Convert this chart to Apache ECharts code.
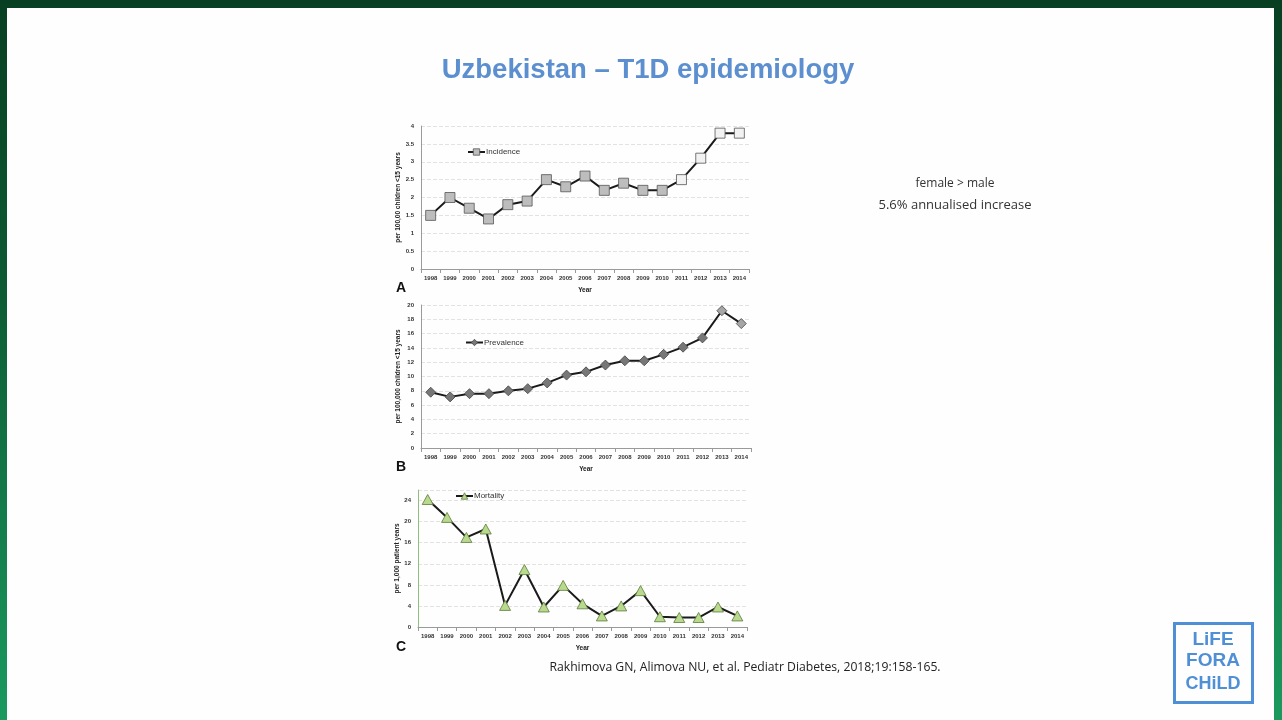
<!DOCTYPE html>
<html>
<head>
<meta charset="utf-8">
<script src="https://cdn.jsdelivr.net/npm/echarts@6/dist/echarts.min.js"></script>
<style>
html,body{margin:0;padding:0;width:1282px;height:720px;overflow:hidden;}
body{background:linear-gradient(to bottom,#083f22 0%,#0d5a33 40%,#1a9a5f 100%);position:relative;}
#page{position:absolute;left:7px;top:8px;width:1267px;height:712px;background:#fefefe;}
#chart{position:absolute;left:0;top:0;width:1282px;height:720px;}
</style>
</head>
<body>
<div id="page"></div>
<div id="chart"></div>
<script>
const years = ['1998','1999','2000','2001','2002','2003','2004','2005','2006','2007','2008','2009','2010','2011','2012','2013','2014'];
const incidence = [1.5, 2.0, 1.7, 1.4, 1.8, 1.9, 2.5, 2.3, 2.6, 2.2, 2.4, 2.2, 2.2, 2.5, 3.1, 3.8, 3.8];
const prevalence = [7.8, 7.15, 7.6, 7.6, 8.0, 8.3, 9.1, 10.2, 10.65, 11.6, 12.2, 12.2, 13.1, 14.1, 15.4, 19.2, 17.4];
const mortality = [24.2, 20.8, 17.0, 18.6, 4.1, 10.9, 3.8, 7.9, 4.4, 2.1, 4.0, 6.9, 1.95, 1.8, 1.8, 3.8, 2.1];
const incidenceTicks = {min: 0, max: 4, interval: 0.5};
const prevalenceTicks = {min: 0, max: 20, interval: 2};
const mortalityTicks = {min: 0, max: 26, interval: 4};

const chart = echarts.init(document.getElementById('chart'), null, {renderer: 'canvas'});
const FONT = '"Liberation Sans", Arial, sans-serif';
const lbl = {fontSize: 6, fontWeight: 'bold', color: '#333', fontFamily: FONT};
const nameStyle = {fontSize: 6.5, fontWeight: 'bold', color: '#222', fontFamily: FONT};
const legendText = {fontSize: 8, color: '#333', fontFamily: FONT, padding: [0,0,0,-4]};

function xAxis(gi, margin) {
  return {
    type: 'category', gridIndex: gi, data: years, boundaryGap: true,
    axisLine: {lineStyle: {color: '#9a9a9a', width: 1}},
    axisTick: {show: true, interval: 0, length: 4, lineStyle: {color: '#9a9a9a'}},
    axisLabel: Object.assign({interval: 0, margin: margin}, lbl),
    name: 'Year', nameLocation: 'middle', nameGap: 18, nameTextStyle: nameStyle
  };
}
function yAxis(gi, ticks, name, gap, axisColor) {
  return {
    type: 'value', gridIndex: gi, min: ticks.min, max: ticks.max, interval: ticks.interval,
    axisLine: {show: true, lineStyle: {color: axisColor, width: 1}},
    axisTick: {show: false},
    axisLabel: Object.assign({margin: 7, showMaxLabel: ticks.max % ticks.interval === 0}, lbl),
    splitLine: {show: true, lineStyle: {color: '#e2e2e2', type: 'dashed', width: 1}},
    name: name, nameLocation: 'middle', nameRotate: 90, nameGap: gap, nameTextStyle: nameStyle
  };
}
function colorFn(normal, light, lightFrom) {
  return function (p) { return p.dataIndex >= lightFrom ? light : normal; };
}

chart.setOption({
  animation: false,
  grid: [
    {left: 421, top: 126, width: 328, height: 143},
    {left: 421, top: 305, width: 330, height: 143},
    {left: 418, top: 490, width: 329, height: 137}
  ],
  xAxis: [xAxis(0, 6), xAxis(1, 6), xAxis(2, 6)],
  yAxis: [
    yAxis(0, incidenceTicks, 'per 100,00 children <15 years', 19, '#9a9a9a'),
    yAxis(1, prevalenceTicks, 'per 100,000 children <15 years', 19, '#9a9a9a'),
    yAxis(2, mortalityTicks, 'per 1,000 patient years', 17, '#8fbf7a')
  ],
  legend: [
    {data: [{name: 'Incidence', itemStyle: {color: '#bdbdbd', borderColor: '#555', borderWidth: 0.8}}],
     left: 467, top: 148, padding: 0, itemWidth: 17, itemHeight: 8, itemGap: 2, textStyle: legendText},
    {data: [{name: 'Prevalence', itemStyle: {color: '#777777', borderColor: '#444', borderWidth: 0.8}}],
     left: 465, top: 338.5, padding: 0, itemWidth: 17, itemHeight: 8, itemGap: 2, textStyle: legendText},
    {data: [{name: 'Mortality', itemStyle: {color: '#b9d98e', borderColor: '#5c7a3a', borderWidth: 0.8}}],
     left: 455, top: 492, padding: 0, itemWidth: 17, itemHeight: 8, itemGap: 2, textStyle: legendText}
  ],
  series: [
    {name: 'Incidence', type: 'line', xAxisIndex: 0, yAxisIndex: 0, data: incidence,
     symbol: 'rect', symbolSize: 10, showAllSymbol: true,
     lineStyle: {color: '#1a1a1a', width: 2},
     itemStyle: {color: colorFn('#bdbdbd', '#f2f2f2', 13), borderColor: '#555', borderWidth: 0.8}},
    {name: 'Prevalence', type: 'line', xAxisIndex: 1, yAxisIndex: 1, data: prevalence,
     symbol: 'diamond', symbolSize: 10, showAllSymbol: true,
     lineStyle: {color: '#1a1a1a', width: 2},
     itemStyle: {color: colorFn('#777777', '#a6a6a6', 15), borderColor: '#444', borderWidth: 0.8}},
    {name: 'Mortality', type: 'line', xAxisIndex: 2, yAxisIndex: 2, data: mortality,
     symbol: 'triangle', symbolSize: [11, 10], showAllSymbol: true,
     lineStyle: {color: '#1a1a1a', width: 2},
     itemStyle: {color: '#b9d98e', borderColor: '#5c7a3a', borderWidth: 0.8}}
  ],
  graphic: [
    {type: 'text', x: 648, y: 70, style: {text: 'Uzbekistan \u2013 T1D epidemiology', fontSize: 27.5, fontWeight: 'bold', fill: '#5b8fcf', align: 'center', verticalAlign: 'middle', fontFamily: FONT}},
    {type: 'text', x: 396, y: 281, style: {text: 'A', fontSize: 14, fontWeight: 'bold', fill: '#111', fontFamily: FONT}},
    {type: 'text', x: 396, y: 460, style: {text: 'B', fontSize: 14, fontWeight: 'bold', fill: '#111', fontFamily: FONT}},
    {type: 'text', x: 396, y: 640, style: {text: 'C', fontSize: 14, fontWeight: 'bold', fill: '#111', fontFamily: FONT}},
    {type: 'text', x: 955, y: 184, style: {text: 'female > male', fontSize: 12, fill: '#333', align: 'center', verticalAlign: 'middle', fontFamily: '"Open Sans", sans-serif'}},
    {type: 'text', x: 955, y: 205, style: {text: '5.6% annualised increase', fontSize: 13, fill: '#333', align: 'center', verticalAlign: 'middle', fontFamily: '"Open Sans", sans-serif'}},
    {type: 'text', x: 745, y: 668, style: {text: 'Rakhimova GN, Alimova NU, et al. Pediatr Diabetes, 2018;19:158-165.', fontSize: 12.2, fill: '#222', align: 'center', verticalAlign: 'middle', fontFamily: '"Open Sans", sans-serif'}},
    {type: 'rect', shape: {x: 1174.5, y: 623.5, width: 78, height: 79}, style: {fill: 'none', stroke: '#4f8fd6', lineWidth: 3}},
    {type: 'text', x: 1213, y: 640, style: {text: 'LiFE', fontSize: 19, fontWeight: 'bold', fill: '#4f8fd6', align: 'center', verticalAlign: 'middle', fontFamily: FONT}},
    {type: 'text', x: 1213, y: 661, style: {text: 'FORA', fontSize: 19, fontWeight: 'bold', fill: '#4f8fd6', align: 'center', verticalAlign: 'middle', fontFamily: FONT}},
    {type: 'text', x: 1213, y: 684, style: {text: 'CHiLD', fontSize: 18, fontWeight: 'bold', fill: '#4f8fd6', align: 'center', verticalAlign: 'middle', fontFamily: FONT}}
  ]
});
</script>
</body>
</html>
